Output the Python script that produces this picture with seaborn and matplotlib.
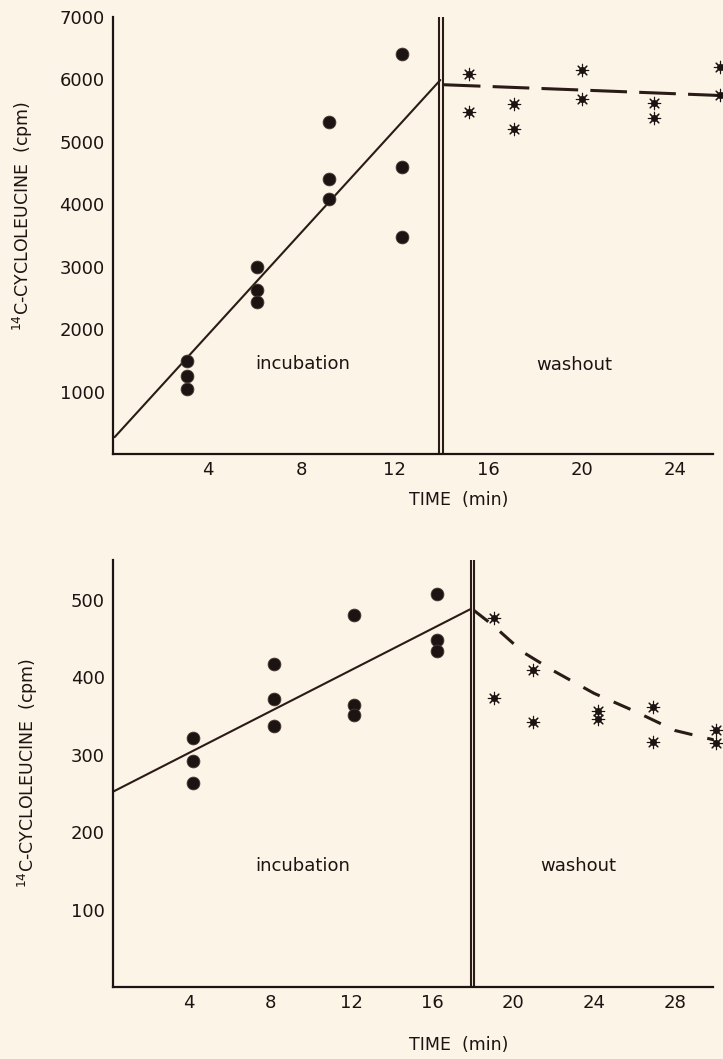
import matplotlib
matplotlib.use("Agg")
import matplotlib.pyplot as plt
import seaborn as sns
import numpy as np

# ---------------- data ----------------
# Top panel
top_inc_time = [3.1, 3.1, 3.1, 6.1, 6.1, 6.1, 9.2, 9.2, 9.2, 12.3, 12.3, 12.3]
top_inc_cpm = [1490, 1250, 1040, 3000, 2630, 2440, 5320, 4410, 4090, 6410, 4600, 3480]
top_wash_time = [15.2, 15.2, 17.1, 17.1, 20.0, 20.0, 23.1, 23.1, 25.95, 25.95]
top_wash_cpm = [6090, 5480, 5610, 5210, 6150, 5690, 5620, 5380, 6200, 5750]
top_fit_time = [0.0, 13.95]
top_fit_cpm = [270, 5990]
top_wash_fit_time = [14.1, 20.0, 26.1]
top_wash_fit_cpm = [5915, 5830, 5740]
top_xticks = [4, 8, 12, 16, 20, 24]
top_yticks = [1000, 2000, 3000, 4000, 5000, 6000, 7000]
top_split = [13.89, 14.06]

# Bottom panel
bot_inc_time = [4.2, 4.2, 4.2, 8.2, 8.2, 8.2, 12.15, 12.15, 12.15, 16.25, 16.25, 16.25]
bot_inc_cpm = [321, 292, 263, 417, 372, 337, 480, 364, 351, 507, 448, 434]
bot_wash_time = [19.06, 19.06, 21.0, 21.0, 24.2, 24.2, 26.9, 26.9, 30.0, 30.0]
bot_wash_cpm = [476, 373, 409, 342, 356, 346, 361, 316, 332, 315]
bot_fit_time = [0.25, 17.93]
bot_fit_cpm = [252, 488]
bot_wash_fit_time = [18.07, 19.0, 20.5, 22.0, 24.0, 26.0, 28.0, 29.9]
bot_wash_fit_cpm = [486, 467, 432, 408, 379, 356, 331, 319]
bot_xticks = [4, 8, 12, 16, 20, 24, 28]
bot_yticks = [100, 200, 300, 400, 500]
bot_split = [17.93, 18.07]

ylabel = r"$^{14}$C-CYCLOLEUCINE  (cpm)"
xlabel = "TIME  (min)"

# ---------------- style ----------------
sns.set_theme(style="white")
plt.rcParams["font.family"] = ["DejaVu Sans"]
BG = "#fcf4e6"
INK = "#1c1412"
LINE = "#2a1b16"

fig = plt.figure(figsize=(7.23, 10.59), dpi=100, facecolor=BG)

W, H = 723.0, 1059.0


def make_axes(left_px, right_px, top_px, bottom_px):
    ax = fig.add_axes([left_px / W, 1 - bottom_px / H,
                       (right_px - left_px) / W, (bottom_px - top_px) / H])
    ax.set_facecolor(BG)
    return ax


def style_axes(ax, xticks, yticks, spine_right):
    for s in ["top", "right"]:
        ax.spines[s].set_visible(False)
    for s in ["left", "bottom"]:
        ax.spines[s].set_color(INK)
        ax.spines[s].set_linewidth(1.6)
    ax.spines["bottom"].set_bounds(ax.get_xlim()[0], spine_right)
    ax.set_xticks(xticks)
    ax.set_yticks(yticks)
    ax.tick_params(axis="both", direction="in", length=10, width=1.5,
                   colors=INK, labelsize=13, pad=5)
    ax.tick_params(axis="y", pad=6)
    ax.grid(False)


def draw_panel(ax, inc_t, inc_v, wash_t, wash_v, fit_t, fit_v,
               wfit_t, wfit_v, split, dashes, circ_s, star_s):
    sns.lineplot(x=fit_t, y=fit_v, ax=ax, color=LINE, linewidth=1.5,
                 estimator=None, sort=False)
    sns.lineplot(x=wfit_t, y=wfit_v, ax=ax, color=LINE, linewidth=2.2,
                 estimator=None, sort=False, dashes=False)
    ax.lines[-1].set_linestyle((0, dashes))
    for xv in split:
        ax.axvline(xv, color=LINE, linewidth=1.5)
    sns.scatterplot(x=inc_t, y=inc_v, ax=ax, marker="o", s=circ_s,
                    color=INK, edgecolor="#4a3a34", linewidth=0.6, zorder=5)
    sns.scatterplot(x=wash_t, y=wash_v, ax=ax, marker=(8, 2, 0), s=star_s,
                    color=INK, edgecolor=INK, linewidth=0.8, zorder=5)
    sns.scatterplot(x=wash_t, y=wash_v, ax=ax, marker="o", s=star_s * 0.32,
                    color=INK, linewidth=0, zorder=6)


# ---------------- top panel ----------------
ax1 = make_axes(113, 723, 17, 454)
ax1.set_xlim(-0.07, 26.06)
ax1.set_ylim(0, 7000)
draw_panel(ax1, top_inc_time, top_inc_cpm, top_wash_time, top_wash_cpm,
           top_fit_time, top_fit_cpm, top_wash_fit_time, top_wash_fit_cpm,
           top_split, (12, 4), 85, 80)
style_axes(ax1, top_xticks, top_yticks, 25.63)
ax1.text(8.07, 1440, "incubation", ha="center", va="center", fontsize=13, color=INK)
ax1.text(19.7, 1430, "washout", ha="center", va="center", fontsize=13, color=INK)
ax1.set_xlabel(xlabel, fontsize=12.5, color=INK)
ax1.xaxis.set_label_coords(0.566, -0.085)
ax1.set_ylabel("")
ax1.text(-0.148, 0.545, ylabel, rotation=90, ha="center", va="center",
         fontsize=12.5, color=INK, transform=ax1.transAxes)

# ---------------- bottom panel ----------------
ax2 = make_axes(113, 723, 560, 987)
ax2.set_xlim(0.25, 30.37)
ax2.set_ylim(0, 551)
draw_panel(ax2, bot_inc_time, bot_inc_cpm, bot_wash_time, bot_wash_cpm,
           bot_fit_time, bot_fit_cpm, bot_wash_fit_time, bot_wash_fit_cpm,
           bot_split, (6, 5), 85, 80)
style_axes(ax2, bot_xticks, bot_yticks, 29.88)
ax2.text(9.6, 156, "incubation", ha="center", va="center", fontsize=13, color=INK)
ax2.text(23.2, 156, "washout", ha="center", va="center", fontsize=13, color=INK)
ax2.set_xlabel(xlabel, fontsize=12.5, color=INK)
ax2.xaxis.set_label_coords(0.566, -0.115)
ax2.set_ylabel("")
ax2.text(-0.14, 0.5, ylabel, rotation=90, ha="center", va="center",
         fontsize=12.5, color=INK, transform=ax2.transAxes)

fig.savefig("out.png", dpi=100, facecolor=BG)
